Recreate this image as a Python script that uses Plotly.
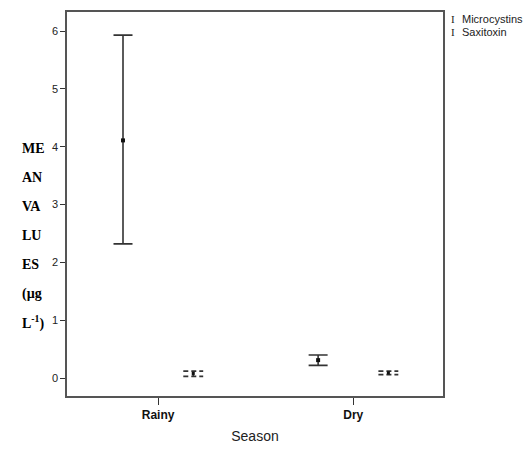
import plotly.graph_objects as go

# ---- data ----
seasons = ["Rainy", "Dry"]
micro_mean = [4.11, 0.31]
micro_upper = [5.93, 0.40]
micro_lower = [2.32, 0.22]
saxi_mean = [0.08, 0.09]
saxi_upper = [0.12, 0.12]
saxi_lower = [0.03, 0.06]
y_ticks = [0, 1, 2, 3, 4, 5, 6]
y_title_lines = ["ME", "AN", "VA", "LU", "ES", "(µg", "L<sup>-1</sup>)"]

# ---- layout constants ----
W, H = 528, 452
L, R, T, B = 67, 85, 10, 56
offset = 0.18
cap_half = 0.051
col = "#333333"

xpos = list(range(len(seasons)))
xm = [p - offset for p in xpos]
xs = [p + offset for p in xpos]

fig = go.Figure()

# Microcystins: solid error bars
fig.add_trace(go.Scatter(
    x=xm, y=micro_mean, mode="markers",
    marker=dict(color="#111", size=4, symbol="square"),
    error_y=dict(type="data", symmetric=False,
                 array=[u - m for u, m in zip(micro_upper, micro_mean)],
                 arrayminus=[m - l for m, l in zip(micro_mean, micro_lower)],
                 color=col, thickness=1.6, width=9.5),
    showlegend=False, hoverinfo="skip"))

# Saxitoxin: dashed error bars built from data
sx, sy = [], []
for c, lo, hi in zip(xs, saxi_lower, saxi_upper):
    sx += [c - cap_half, c + cap_half, None, c, c, None, c - cap_half, c + cap_half, None]
    sy += [hi, hi, None, lo, hi, None, lo, lo, None]
fig.add_trace(go.Scatter(x=sx, y=sy, mode="lines",
                         line=dict(color=col, width=1.8, dash="5px,3px"),
                         showlegend=False, hoverinfo="skip"))
fig.add_trace(go.Scatter(x=xs, y=saxi_mean, mode="markers",
                         marker=dict(color="#111", size=3, symbol="square"),
                         showlegend=False, hoverinfo="skip"))

# y title lines
plot_h = H - T - B
plot_w = W - L - R
first_px, step_px = 147, 29.2
for i, txt in enumerate(y_title_lines):
    py = first_px + i * step_px
    fig.add_annotation(text=txt, xref="paper", yref="paper",
                       x=(20 - L) / plot_w, y=1 - (py - T) / plot_h,
                       xanchor="left", yanchor="middle", showarrow=False,
                       font=dict(family="Liberation Serif", size=14, color="#000", weight="bold"))

# legend (custom)
leg = [("Microcystins", 17), ("Saxitoxin", 30)]
for name, py in leg:
    fig.add_annotation(text="I", xref="paper", yref="paper",
                       x=(449 - L) / plot_w, y=1 - (py - T) / plot_h,
                       xanchor="left", yanchor="middle", showarrow=False,
                       font=dict(family="Liberation Serif", size=11, color="#222"))
    fig.add_annotation(text=name, xref="paper", yref="paper",
                       x=(460 - L) / plot_w, y=1 - (py - T) / plot_h,
                       xanchor="left", yanchor="middle", showarrow=False,
                       font=dict(family="Liberation Sans", size=11, color="#222"))

fig.update_layout(
    width=W, height=H,
    margin=dict(l=L, r=R, t=T, b=B),
    paper_bgcolor="white", plot_bgcolor="white",
    showlegend=False,
    xaxis=dict(range=[-0.467, 1.46], tickvals=xpos, ticktext=["<b>%s</b>" % s for s in seasons],
               showgrid=False, zeroline=False, showline=True, mirror=True,
               linecolor="#555", linewidth=1.6, ticks="outside", ticklen=7,
               tickcolor="#333", tickwidth=1.4,
               tickfont=dict(family="Liberation Sans", size=12, color="#111"),
               title=dict(text="Season", standoff=10,
                          font=dict(family="Liberation Sans", size=14, color="#222"))),
    yaxis=dict(range=[-0.31, 6.33], tickvals=y_ticks,
               showgrid=False, zeroline=False, showline=True, mirror=True,
               linecolor="#555", linewidth=1.6, ticks="outside", ticklen=5,
               tickcolor="#333", tickwidth=1.4,
               tickfont=dict(family="Liberation Sans", size=11, color="#222")),
)

fig.write_html("out.html", config={"displayModeBar": False},
               post_script="document.body.style.margin='0';document.body.style.overflow='hidden';")
